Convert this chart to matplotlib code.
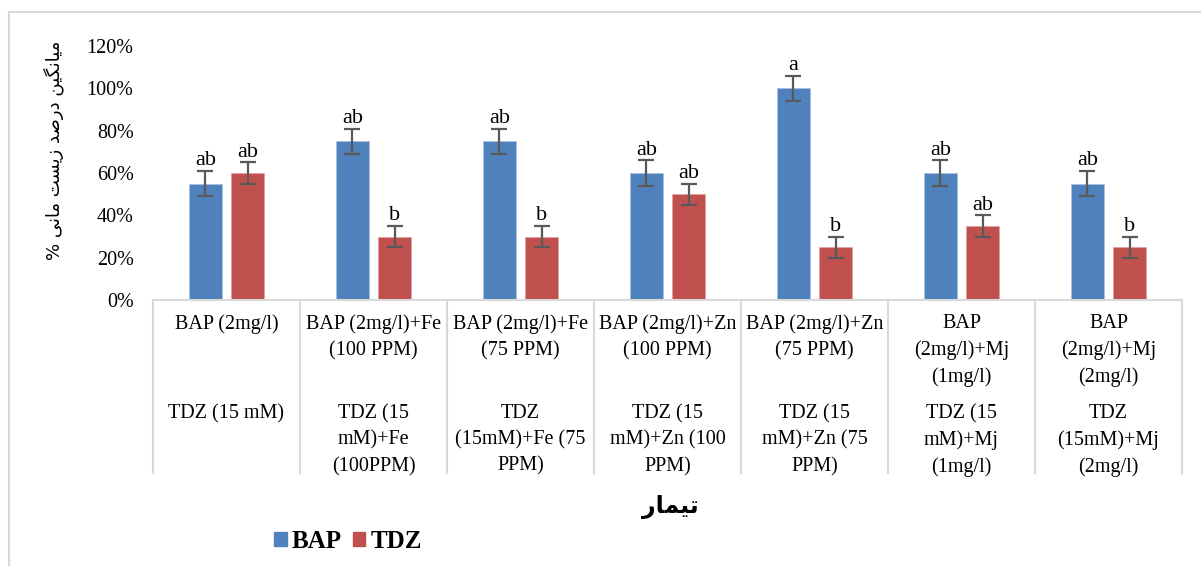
import numpy as np
import matplotlib.pyplot as plt
from matplotlib.lines import Line2D

# data
bap_labels = ["BAP (2mg/l)", "BAP (2mg/l)+Fe\n(100 PPM)", "BAP (2mg/l)+Fe\n(75 PPM)",
              "BAP (2mg/l)+Zn\n(100 PPM)", "BAP (2mg/l)+Zn\n(75 PPM)",
              "BAP\n(2mg/l)+Mj\n(1mg/l)", "BAP\n(2mg/l)+Mj\n(2mg/l)"]
tdz_labels = ["TDZ (15 mM)", "TDZ (15\nmM)+Fe\n(100PPM)", "TDZ\n(15mM)+Fe (75\nPPM)",
              "TDZ (15\nmM)+Zn (100\nPPM)", "TDZ (15\nmM)+Zn (75\nPPM)",
              "TDZ (15\nmM)+Mj\n(1mg/l)", "TDZ\n(15mM)+Mj\n(2mg/l)"]
bap = [0.55, 0.75, 0.75, 0.60, 1.00, 0.60, 0.55]
tdz = [0.60, 0.30, 0.30, 0.50, 0.25, 0.35, 0.25]
bap_err = [0.06] * 7
tdz_err = [0.05] * 7
bap_sig = ["ab", "ab", "ab", "ab", "a", "ab", "ab"]
tdz_sig = ["ab", "b", "b", "ab", "b", "ab", "b"]

ylabel_fa = "میانگین درصد زیست مانی %"
xlabel_fa = "تیمار"

# tiny persian shaper (matplotlib has no arabic text layout)
FORMS = {  # iso, fin, ini, med
    "ا": ("\uFE8D", "\uFE8E", None, None),
    "د": ("\uFEA9", "\uFEAA", None, None),
    "ر": ("\uFEAD", "\uFEAE", None, None),
    "ز": ("\uFEAF", "\uFEB0", None, None),
    "ت": ("\uFE95", "\uFE96", "\uFE97", "\uFE98"),
    "م": ("\uFEE1", "\uFEE2", "\uFEE3", "\uFEE4"),
    "ن": ("\uFEE5", "\uFEE6", "\uFEE7", "\uFEE8"),
    "ص": ("\uFEB9", "\uFEBA", "\uFEBB", "\uFEBC"),
    "س": ("\uFEB1", "\uFEB2", "\uFEB3", "\uFEB4"),
    "ی": ("\uFEEF", "\uFEF0", "\uFEF3", "\uFEF4"),
    "گ": ("\uFB92", "\uFB93", "\uFB94", "\uFB95"),
}

def shape(s):
    out = []
    for i, ch in enumerate(s):
        if ch not in FORMS:
            out.append(ch)
            continue
        prev = s[i - 1] if i > 0 else ""
        nxt = s[i + 1] if i + 1 < len(s) else ""
        jp = prev in FORMS and FORMS[prev][2] is not None
        jn = FORMS[ch][2] is not None and nxt in FORMS
        f = FORMS[ch]
        if jp and jn:
            out.append(f[3])
        elif jp:
            out.append(f[1])
        elif jn:
            out.append(f[2])
        else:
            out.append(f[0])
    return "".join(out)[::-1]

serif = ["Liberation Serif", "DejaVu Serif"]
fa_font = ["DejaVu Sans"]
blue = "#4f81bd"
red = "#c0504d"

fig = plt.figure(figsize=(12.01, 5.66), dpi=100)
ax = fig.add_axes([153/1201, 266/566, 1029/1201, 254/566])

x = np.arange(len(bap))
w = 0.225
off = 0.143
ax.bar(x - off, bap, w, color=blue, edgecolor="#a7c0de", linewidth=0.6, zorder=2)
ax.bar(x + off, tdz, w, color=red, edgecolor="#e0a3a1", linewidth=0.6, zorder=2)
ax.errorbar(x - off, bap, yerr=bap_err, fmt="none", ecolor="#595959", elinewidth=1.6,
            capsize=6, capthick=1.6, zorder=3)
ax.errorbar(x + off, tdz, yerr=tdz_err, fmt="none", ecolor="#595959", elinewidth=1.6,
            capsize=6, capthick=1.6, zorder=3)
for i in range(len(x)):
    ax.text(x[i] - off, bap[i] + bap_err[i] + 0.003, bap_sig[i], ha="center", va="bottom",
            fontsize=16, family=serif)
    ax.text(x[i] + off, tdz[i] + tdz_err[i] + 0.003, tdz_sig[i], ha="center", va="bottom",
            fontsize=16, family=serif)

ax.set_xlim(-0.5, 6.5)
ax.set_ylim(0, 1.2)
ax.set_yticks(np.arange(0, 1.21, 0.2))
ax.set_yticklabels([f"{int(round(v*100))}%" for v in np.arange(0, 1.21, 0.2)],
                   family=serif, fontsize=14.5)
ax.tick_params(axis="y", length=0, pad=14)
ax.set_xticks([])
for s in ["top", "right", "left"]:
    ax.spines[s].set_visible(False)
ax.spines["bottom"].set_color("#d9d9d9")
ax.spines["bottom"].set_linewidth(1.5)

# category table below the axis
trans = ax.get_xaxis_transform()
for b in np.arange(-0.5, 7.0, 1.0):
    ax.add_line(Line2D([b, b], [0, -173/254], transform=trans, color="#d9d9d9",
                       lw=1.5, clip_on=False))
for i in range(len(x)):
    ax.text(x[i], -14/254, bap_labels[i], transform=trans, ha="center", va="top",
            fontsize=14.5, family=serif, linespacing=1.5)
    ax.text(x[i], -104/254, tdz_labels[i], transform=trans, ha="center", va="top",
            fontsize=14.5, family=serif, linespacing=1.5)

fig.text(54/1201, 1 - 150/566, shape(ylabel_fa), rotation=90, ha="center", va="center",
         fontsize=13, family=fa_font)
fig.text(670/1201, 1 - 507/566, shape(xlabel_fa), ha="center", va="center",
         fontsize=17, fontweight="bold", family=fa_font)

# legend
handles = [plt.Rectangle((0, 0), 1, 1, color=blue), plt.Rectangle((0, 0), 1, 1, color=red)]
fig.legend(handles, ["BAP", "TDZ"], loc="center left", bbox_to_anchor=(274/1201, 1 - 541/566),
           ncol=2, frameon=False, handlelength=0.5, handleheight=0.5, handletextpad=0.2,
           columnspacing=0.45, borderpad=0, borderaxespad=0,
           prop={"family": serif, "size": 18, "weight": "bold"})

# outer frame lines
fig.add_artist(Line2D([8.5/1201, 8.5/1201], [0, 1 - 11.5/566], color="#d9d9d9", lw=1.5))
fig.add_artist(Line2D([8.5/1201, 1], [1 - 11.5/566, 1 - 11.5/566], color="#d9d9d9", lw=1.5))

fig.savefig("out.png", dpi=100)
